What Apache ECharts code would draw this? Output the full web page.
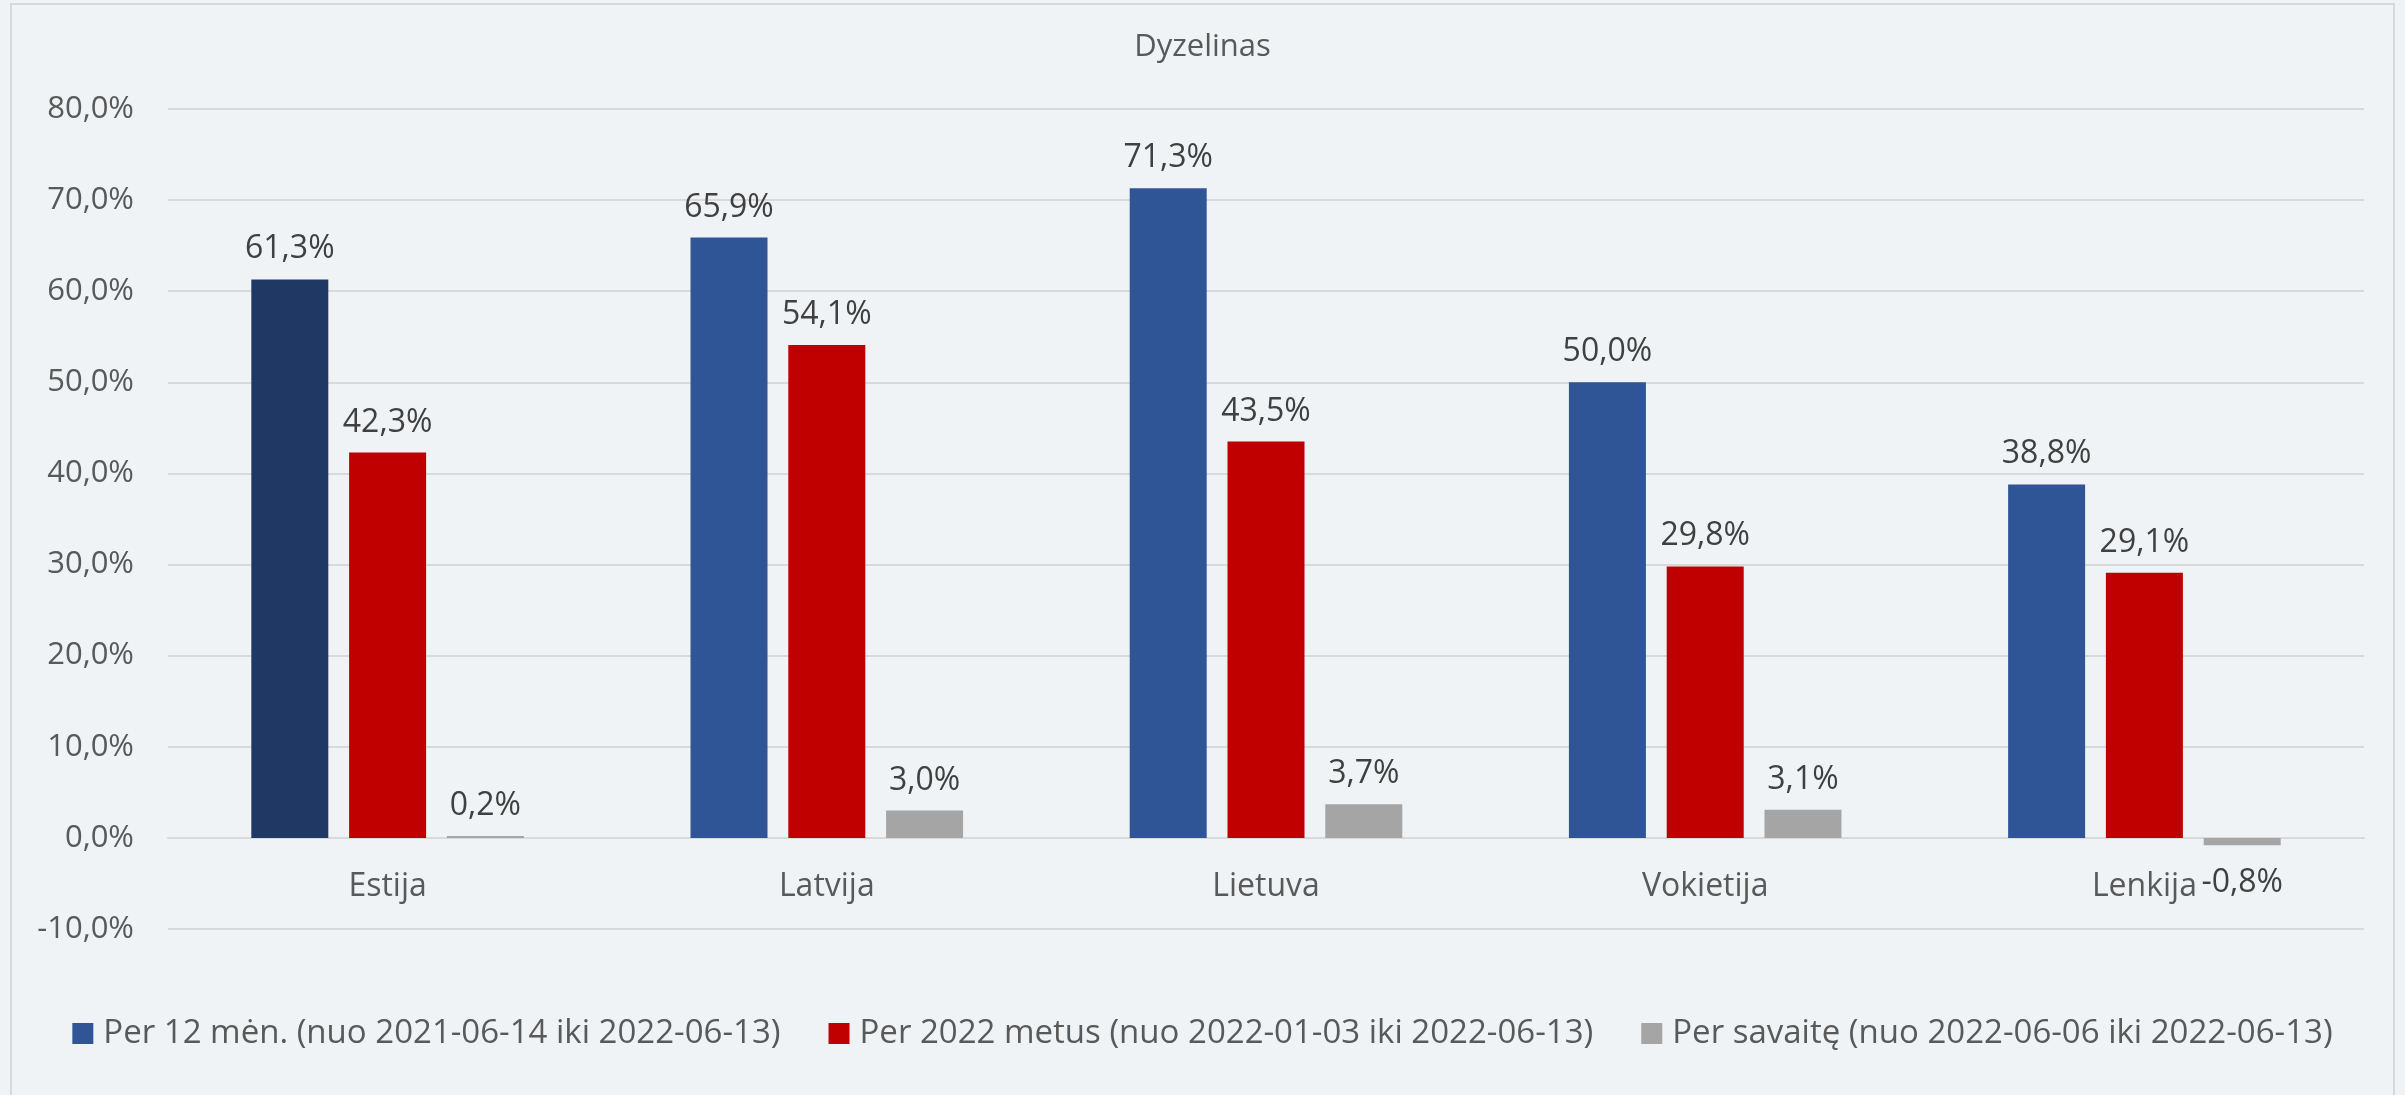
<!DOCTYPE html>
<html>
<head>
<meta charset="utf-8">
<script src="https://cdn.jsdelivr.net/npm/echarts@6/dist/echarts.min.js"></script>
<style>
html,body{margin:0;padding:0;background:#EFF3F6;}
#chart{width:2405px;height:1095px;}
</style>
</head>
<body>
<div id="chart"></div>
<script>
const title = 'Dyzelinas';
const categories = ['Estija', 'Latvija', 'Lietuva', 'Vokietija', 'Lenkija'];
const seriesNames = [
  'Per 12 mėn. (nuo 2021-06-14 iki 2022-06-13)',
  'Per 2022 metus (nuo 2022-01-03 iki 2022-06-13)',
  'Per savaitę (nuo 2022-06-06 iki 2022-06-13)'
];
const per12men = [61.3, 65.9, 71.3, 50.0, 38.8];
const per2022 = [42.3, 54.1, 43.5, 29.8, 29.1];
const perSavaite = [0.2, 3.0, 3.7, 3.1, -0.8];
const yTicks = [-10, 0, 10, 20, 30, 40, 50, 60, 70, 80];

const colors = ['#2F5597', '#C00000', '#A5A5A5'];
const FONT = '"Open Sans", "Noto Sans", sans-serif';
const fmt = v => v.toFixed(1).replace('.', ',') + '%';

function buildData(values, seriesIdx) {
  return values.map((v, i) => {
    const item = { value: v };
    if (seriesIdx === 0 && i === 0) item.itemStyle = { color: '#203864' };
    if (v < 0) item.label = { position: 'bottom', distance: 22 };
    return item;
  });
}

const allSeries = [per12men, per2022, perSavaite].map((vals, si) => ({
  name: seriesNames[si],
  type: 'bar',
  data: buildData(vals, si),
  barWidth: 77,
  barGap: '27%',
  itemStyle: { color: colors[si] },
  label: {
    show: true,
    position: 'top',
    distance: 14,
    color: '#404040',
    fontFamily: FONT,
    fontSize: 32,
    formatter: p => fmt(p.value)
  }
}));

const chart = echarts.init(document.getElementById('chart'), null, { renderer: 'canvas' });
chart.setOption({
  backgroundColor: '#EFF3F6',
  animation: false,
  title: {
    text: title,
    left: 'center',
    top: 27,
    textStyle: { color: '#595959', fontFamily: FONT, fontSize: 31, fontWeight: 'normal' }
  },
  graphic: [{
    type: 'rect',
    shape: { x: 11, y: 4, width: 2383, height: 1100 },
    style: { fill: null, stroke: '#D9D9D9', lineWidth: 2 },
    silent: true,
    z: -1
  }],
  legend: {
    bottom: 40,
    left: 'center',
    itemWidth: 21,
    itemHeight: 21,
    itemGap: 48,
    icon: 'rect',
    textStyle: { color: '#595959', fontFamily: FONT, fontSize: 33, padding: [0, 0, 0, 5] },
    data: seriesNames
  },
  grid: { left: 168, right: 41, top: 109, bottom: 166, containLabel: false },
  xAxis: {
    type: 'category',
    data: categories,
    axisLine: { show: true, onZero: true, lineStyle: { color: '#D9D9D9', width: 2 } },
    axisTick: { show: false },
    axisLabel: { color: '#595959', fontFamily: FONT, fontSize: 32, margin: -58 }
  },
  yAxis: {
    type: 'value',
    min: yTicks[0],
    max: yTicks[yTicks.length - 1],
    interval: 10,
    axisLine: { show: false },
    axisTick: { show: false },
    splitLine: { lineStyle: { color: '#D9D9D9', width: 2 } },
    axisLabel: { color: '#595959', fontFamily: FONT, fontSize: 31, margin: 34, formatter: v => fmt(v) }
  },
  series: allSeries
});
</script>
</body>
</html>
